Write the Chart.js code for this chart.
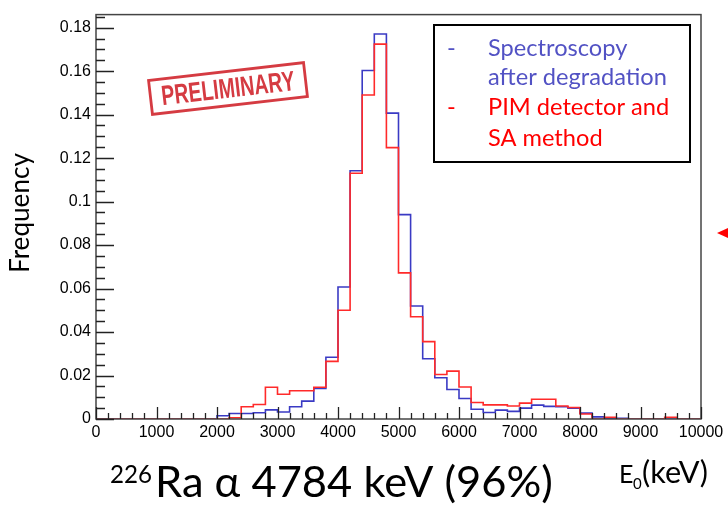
<!DOCTYPE html>
<html>
<head>
<meta charset="utf-8">
<script src="https://cdn.jsdelivr.net/npm/chart.js@4.4.1/dist/chart.umd.min.js"></script>
<style>
  html, body { margin: 0; padding: 0; background: #fff; }
  #wrap { width: 728px; height: 508px; position: relative; }
</style>
</head>
<body>
<div id="wrap"><canvas id="histo"></canvas></div>
<script>
// 226Ra alpha spectrum, 200 keV bins from 0 to 10000 keV

const binWidth = 200;
const xTickValues = [0, 1000, 2000, 3000, 4000, 5000, 6000, 7000, 8000, 9000, 10000];
const yTickValues = [0, 0.02, 0.04, 0.06, 0.08, 0.1, 0.12, 0.14, 0.16, 0.18];

// Spectroscopy after degradation (blue)
const spectroFreq = [
    0, 0, 0, 0, 0, 0, 0, 0, 0, 0,
    0.0015, 0.0025, 0.0025, 0.0029, 0.0042, 0.0032, 0.0056, 0.0082, 0.0141, 0.0284,
    0.0607, 0.1142, 0.1603, 0.1771, 0.1407, 0.0940, 0.0520, 0.0277, 0.0190, 0.0136,
    0.0094, 0.0045, 0.0030, 0.0041, 0.0035, 0.0050, 0.0064, 0.0058, 0.0056, 0.0050,
    0.0027, 0.0010, 0.0004, 0.0003, 0, 0, 0, 0, 0, 0
];

// PIM detector and SA method (red)
const pimFreq = [
    0, 0, 0, 0, 0, 0, 0, 0, 0, 0,
    0, 0.0006, 0.0056, 0.0067, 0.0146, 0.0114, 0.0130, 0.0130, 0.0146, 0.0265,
    0.0500, 0.1130, 0.1490, 0.1724, 0.1248, 0.0672, 0.0470, 0.0356, 0.0205, 0.0220,
    0.0147, 0.0076, 0.0065, 0.0065, 0.0060, 0.0073, 0.0091, 0.0091, 0.0060, 0.0053,
    0.0023, 0, 0.0008, 0, 0, 0, 0, 0.0008, 0, 0
];

const xMax = 10000;
const yMax = 0.186;

function toSteps(freq) {
    const pts = freq.map((v, i) => ({ x: i * binWidth, y: v }));
    pts.push({ x: freq.length * binWidth, y: freq[freq.length - 1] });
    return pts;
}

function fitSize(ctx, text, font, width) {
    ctx.font = '100px ' + font;
    return 100 * width / ctx.measureText(text).width;
}

const decorPlugin = {
    id: 'decor',
    beforeDatasetsDraw(chart) {
        const ctx = chart.ctx;
        // PRELIMINARY stamp
        ctx.save();
        ctx.translate(228, 88.5);
        ctx.rotate(-6.6 * Math.PI / 180);
        ctx.globalAlpha = 0.9;
        ctx.strokeStyle = '#d0262d';
        ctx.lineWidth = 2.8;
        ctx.strokeRect(-78, -17, 156, 34);
        ctx.font = 'bold 28px "Liberation Sans", Arial, sans-serif';
        const w = ctx.measureText('PRELIMINARY').width;
        ctx.scale(134 / w, 1);
        ctx.fillStyle = '#d0262d';
        ctx.textAlign = 'center';
        ctx.textBaseline = 'middle';
        ctx.fillText('PRELIMINARY', 0, 1.5);
        ctx.restore();
    },
    afterDraw(chart) {
        const ctx = chart.ctx;
        const area = chart.chartArea;
        const xs = chart.scales.x;
        const ys = chart.scales.y;

        ctx.save();
        // frame
        ctx.strokeStyle = '#444';
        ctx.lineWidth = 1.5;
        ctx.strokeRect(area.left, area.top, area.right - area.left, area.bottom - area.top);

        // inward ticks
        ctx.strokeStyle = '#222';
        ctx.lineWidth = 1.3;
        ctx.beginPath();
        for (let v = 0; v <= xMax; v += binWidth) {
            const px = Math.round(xs.getPixelForValue(v)) + 0.5;
            const len = v % 1000 === 0 ? 12 : 6;
            ctx.moveTo(px, area.bottom);
            ctx.lineTo(px, area.bottom - len);
        }
        for (let k = 0; k * 0.005 <= yMax; k++) {
            const py = Math.round(ys.getPixelForValue(k * 0.005)) + 0.5;
            const len = k % 4 === 0 ? 18 : 9;
            ctx.moveTo(area.left, py);
            ctx.lineTo(area.left + len, py);
        }
        ctx.stroke();

        // legend box
        ctx.strokeStyle = '#000';
        ctx.lineWidth = 2;
        ctx.strokeRect(434, 25, 256, 137);
        const lf = '"Lato", "Open Sans", sans-serif';
        const ls = fitSize(ctx, 'after degradation', lf, 179);
        ctx.font = ls + 'px ' + lf;
        ctx.textAlign = 'left';
        ctx.textBaseline = 'alphabetic';
        const blueTxt = '#5252c4';
        const redTxt = '#ff0000';
        ctx.fillStyle = blueTxt;
        ctx.fillText('-', 447, 56);
        ctx.fillText('Spectroscopy', 488, 56);
        ctx.fillText('after degradation', 488, 85);
        ctx.fillStyle = redTxt;
        ctx.fillText('-', 447, 115);
        ctx.fillText('PIM detector and', 488, 115);
        ctx.fillText('SA method', 488, 146);

        // y title
        ctx.fillStyle = '#000';
        const fs = fitSize(ctx, 'Frequency', lf, 120);
        ctx.font = fs + 'px ' + lf;
        ctx.save();
        ctx.translate(29, 273);
        ctx.rotate(-Math.PI / 2);
        ctx.fillText('Frequency', 0, 0);
        ctx.restore();

        // bottom title
        const main = 'Ra \u03b1 4784 keV (96%)';
        const ms = fitSize(ctx, main, lf, 398);
        ctx.font = ms + 'px ' + lf;
        ctx.fillText(main, 155, 497);
        const ss = fitSize(ctx, '226', lf, 42);
        ctx.font = ss + 'px ' + lf;
        ctx.fillText('226', 110, 483);

        // x unit
        ctx.font = '25px ' + lf;
        ctx.fillText('E', 619, 483);
        ctx.font = '15px ' + lf;
        ctx.fillText('0', 633, 489);
        const us = fitSize(ctx, '(keV)', lf, 66);
        ctx.font = us + 'px ' + lf;
        ctx.fillText('(keV)', 642, 483);

        // red arrow cut at the right edge
        ctx.fillStyle = '#ff0000';
        ctx.beginPath();
        ctx.moveTo(717, 233);
        ctx.lineTo(728, 228);
        ctx.lineTo(728, 238);
        ctx.closePath();
        ctx.fill();
        ctx.restore();
    }
};

const tickFont = { family: '"Liberation Sans", Arial, sans-serif', size: 16 };

new Chart(document.getElementById('histo'), {
    type: 'line',
    data: {
        datasets: [
            {
                label: 'Spectroscopy after degradation',
                data: toSteps(spectroFreq),
                borderColor: '#3a3ac4',
                borderWidth: 1.6,
                stepped: 'before',
                pointRadius: 0,
                fill: false,
                order: 2
            },
            {
                label: 'PIM detector and SA method',
                data: toSteps(pimFreq),
                borderColor: '#ff2a2a',
                borderWidth: 1.6,
                stepped: 'before',
                pointRadius: 0,
                fill: false,
                order: 1
            }
        ]
    },
    options: {
        responsive: true,
        maintainAspectRatio: false,
        animation: false,
        layout: { padding: { left: 0, right: 27, top: 9, bottom: 0 } },
        plugins: {
            legend: { display: false },
            tooltip: { enabled: false }
        },
        scales: {
            x: {
                type: 'linear',
                min: 0,
                max: xMax,
                afterFit(scale) { scale.height = 89; },
                afterBuildTicks(scale) { scale.ticks = xTickValues.map(v => ({ value: v })); },
                grid: { display: false, drawTicks: false },
                border: { display: false },
                ticks: {
                    color: '#000',
                    font: tickFont,
                    padding: 4,
                    maxRotation: 0,
                    autoSkip: false,
                    callback: v => String(v)
                }
            },
            y: {
                min: 0,
                max: yMax,
                afterFit(scale) { scale.width = 96; },
                afterBuildTicks(scale) { scale.ticks = yTickValues.map(v => ({ value: v })); },
                grid: { display: false, drawTicks: false },
                border: { display: false },
                ticks: {
                    color: '#000',
                    font: tickFont,
                    padding: 5,
                    autoSkip: false,
                    callback: v => String(+v.toFixed(3))
                }
            }
        }
    },
    plugins: [decorPlugin]
});
</script>
</body>
</html>
